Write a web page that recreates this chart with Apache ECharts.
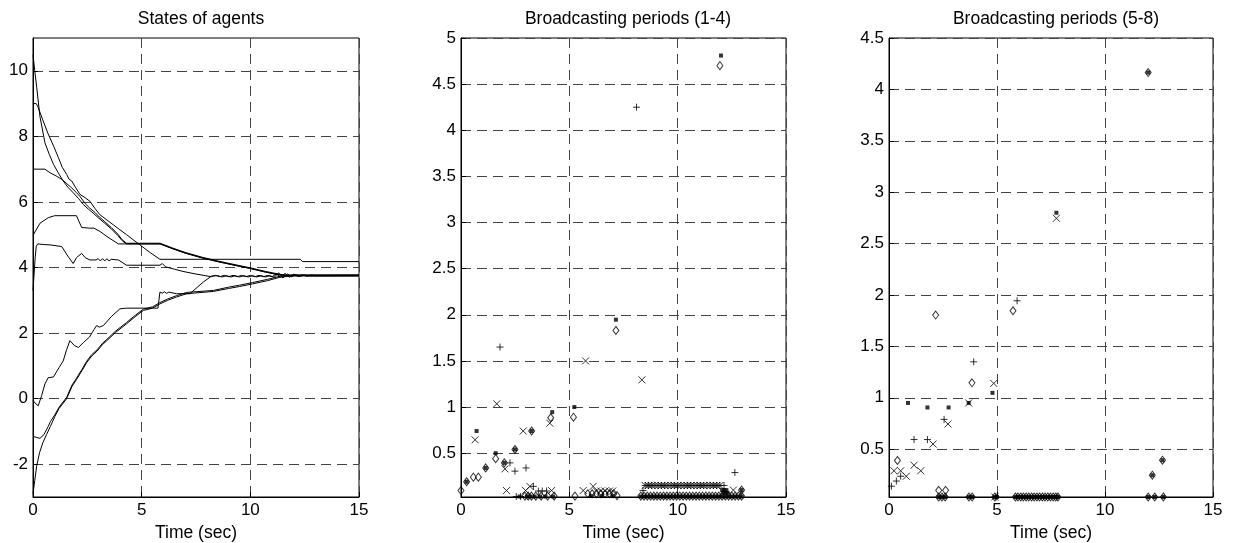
<!DOCTYPE html>
<html>
<head>
<meta charset="utf-8">
<script src="https://cdn.jsdelivr.net/npm/echarts@6/dist/echarts.min.js"></script>
<style>
  html, body { margin: 0; padding: 0; background: #fff; }
  #chart { width: 1233px; height: 543px; }
</style>
</head>
<body>
<div id="chart"></div>
<script>
// tick labels
var timeTicks = [0, 5, 10, 15]
var stateTicks = [-2, 0, 2, 4, 6, 8, 10]
var periodTicks14 = [0.5, 1, 1.5, 2, 2.5, 3, 3.5, 4, 4.5, 5]
var periodTicks58 = [0.5, 1, 1.5, 2, 2.5, 3, 3.5, 4, 4.5]

// states of agents, [time, state]
var state1 = [[0, 10.5], [0.08, 10.0], [0.17, 9.5], [0.32, 8.6], [0.55, 7.8], [0.75, 7.45], [0.94, 7.15], [1.15, 6.9], [1.39, 6.64], [1.6, 6.45], [1.85, 6.28], [2.1, 6.1], [2.32, 5.92], [2.55, 5.78], [2.8, 5.64], [3.0, 5.52], [3.3, 5.35], [3.6, 5.18], [3.9, 4.98], [4.1, 4.82], [4.3, 4.72], [5.85, 4.72], [6.4, 4.58], [7.0, 4.44], [7.8, 4.29], [8.5, 4.18], [9.2, 4.08], [10.0, 3.97], [10.7, 3.86], [11.3, 3.78], [11.6, 3.76], [15, 3.76]]
var state2 = [[0, 9.0], [0.15, 9.0], [0.24, 8.88], [0.45, 8.5], [0.7, 8.07], [0.95, 7.7], [1.17, 7.35], [1.35, 7.05], [1.55, 6.84], [1.65, 6.7], [1.78, 6.64], [1.95, 6.45], [2.16, 6.23], [2.35, 6.15], [2.62, 6.02], [2.85, 5.8], [3.08, 5.61], [3.4, 5.45], [3.7, 5.3], [4.0, 5.15], [4.31, 5.0], [4.6, 4.85], [4.92, 4.69], [5.4, 4.45], [5.84, 4.25], [12.3, 4.25], [12.4, 4.18], [15, 4.18]]
var state3 = [[0, 7.0], [0.55, 7.0], [0.78, 6.89], [1.1, 6.78], [1.32, 6.69], [1.55, 6.56], [1.78, 6.43], [2.0, 6.28], [2.16, 6.17], [2.4, 5.95], [2.6, 5.82], [2.85, 5.68], [3.05, 5.54], [3.3, 5.4], [3.6, 5.22], [3.9, 5.02], [4.1, 4.85], [4.3, 4.74], [5.85, 4.74], [6.4, 4.6], [7.0, 4.46], [7.8, 4.31], [8.5, 4.2], [9.2, 4.1], [10.0, 3.99], [10.7, 3.88], [11.3, 3.8], [11.6, 3.77], [15, 3.77]]
var state4 = [[0, 4.98], [0.08, 5.0], [0.32, 5.35], [0.7, 5.52], [1.0, 5.58], [2.0, 5.58], [2.24, 5.22], [2.62, 5.2], [2.8, 5.2], [3.08, 5.1], [3.5, 4.9], [3.93, 4.72], [5.85, 4.72], [6.4, 4.58], [7.0, 4.44], [7.8, 4.29], [8.5, 4.18], [9.2, 4.08], [10.0, 3.97], [10.7, 3.86], [11.3, 3.78], [11.6, 3.76], [15, 3.76]]
var state5 = [[0, 3.3], [0.1, 4.3], [0.15, 4.65], [0.22, 4.72], [0.5, 4.7], [0.78, 4.69], [1.32, 4.64], [1.6, 4.35], [1.85, 4.12], [2.0, 4.3], [2.24, 4.43], [2.4, 4.3], [2.62, 4.23], [2.9, 4.23], [3.0, 4.27], [3.1, 4.2], [3.2, 4.27], [3.3, 4.2], [3.4, 4.27], [3.5, 4.2], [3.6, 4.25], [3.93, 4.23], [4.3, 4.07], [5.84, 4.07], [5.95, 4.12], [6.1, 4.02], [6.5, 3.95], [6.9, 3.88], [7.5, 3.8], [8.2, 3.72], [8.4, 3.76], [8.6, 3.72], [8.8, 3.76], [9.0, 3.72], [9.2, 3.76], [9.4, 3.72], [9.6, 3.76], [9.8, 3.72], [10.0, 3.76], [10.2, 3.72], [10.4, 3.76], [10.6, 3.72], [10.8, 3.76], [11.0, 3.72], [11.2, 3.8], [11.4, 3.7], [11.6, 3.82], [11.8, 3.7], [12.0, 3.8], [12.2, 3.72], [12.4, 3.78], [12.6, 3.73], [12.8, 3.77], [13.0, 3.75], [15, 3.75]]
var state6 = [[0, -0.05], [0.09, -0.13], [0.24, -0.22], [0.4, 0.1], [0.55, 0.45], [0.7, 0.64], [0.94, 0.66], [1.2, 0.95], [1.39, 1.15], [1.55, 1.5], [1.7, 1.77], [1.9, 1.62], [2.09, 1.56], [2.32, 1.71], [2.6, 1.88], [2.8, 2.1], [2.93, 2.23], [3.05, 2.18], [3.24, 2.23], [3.6, 2.5], [4.0, 2.74], [4.3, 2.76], [5.75, 2.76], [5.84, 3.25], [5.95, 3.22], [6.05, 3.26], [6.15, 3.21], [6.25, 3.25], [6.6, 3.2], [7.22, 3.2], [7.84, 3.56], [8.22, 3.74], [8.3, 3.71], [8.5, 3.75], [8.7, 3.71], [8.9, 3.75], [9.1, 3.71], [9.3, 3.75], [9.5, 3.71], [9.7, 3.75], [9.9, 3.71], [10.1, 3.75], [10.3, 3.71], [10.5, 3.75], [10.7, 3.71], [10.9, 3.75], [11.1, 3.7], [11.3, 3.84], [11.5, 3.68], [11.7, 3.8], [11.9, 3.72], [12.1, 3.78], [12.3, 3.73], [12.5, 3.77], [12.7, 3.74], [15, 3.74]]
var state7 = [[0, -1.15], [0.15, -1.18], [0.32, -1.21], [0.5, -1.1], [0.7, -0.85], [0.8, -0.7], [1.0, -0.5], [1.2, -0.26], [1.55, 0.04], [1.8, 0.42], [2.0, 0.62], [2.25, 0.89], [2.47, 1.14], [2.7, 1.34], [2.95, 1.49], [3.2, 1.69], [3.4, 1.81], [3.8, 2.06], [4.3, 2.32], [4.7, 2.54], [5.08, 2.73], [5.5, 2.8], [5.84, 2.93], [6.2, 3.04], [6.6, 3.14], [7.07, 3.24], [8.3, 3.3], [9.0, 3.4], [9.5, 3.46], [10.1, 3.54], [10.8, 3.64], [11.4, 3.74], [12.0, 3.76], [15, 3.77]]
var state8 = [[0, -2.9], [0.08, -2.5], [0.17, -2.05], [0.3, -1.65], [0.45, -1.35], [0.62, -1.1], [0.8, -0.85], [1.0, -0.55], [1.2, -0.3], [1.55, 0.0], [1.8, 0.38], [2.0, 0.58], [2.25, 0.85], [2.47, 1.1], [2.7, 1.3], [2.95, 1.45], [3.2, 1.65], [3.4, 1.77], [3.8, 2.02], [4.3, 2.28], [4.7, 2.5], [5.08, 2.69], [5.5, 2.76], [5.84, 2.89], [6.2, 3.0], [6.6, 3.1], [7.07, 3.2], [8.3, 3.27], [9.0, 3.36], [9.5, 3.42], [10.1, 3.5], [10.8, 3.6], [11.4, 3.71], [12.0, 3.74], [15, 3.75]]

// broadcasting periods of agents 1-4, [time, period]
var period1 = [[0.26, 0.19], [0.72, 0.74], [1.14, 0.34], [1.6, 0.5], [2.0, 0.395], [2.49, 0.54], [3.26, 0.74], [4.21, 0.945], [5.23, 1.0], [7.15, 1.947], [12.0, 4.81], [2.7, 0.03], [3.05, 0.03], [3.2, 0.03], [3.4, 0.03], [3.65, 0.03], [3.9, 0.03], [4.25, 0.03], [6.0, 0.035], [6.5, 0.035], [7.0, 0.035], [8.3, 0.03], [8.45, 0.03], [8.6, 0.03], [8.75, 0.03], [8.9, 0.03], [9.05, 0.03], [9.2, 0.03], [9.35, 0.03], [9.5, 0.03], [9.65, 0.03], [9.8, 0.03], [9.95, 0.03], [10.1, 0.03], [10.25, 0.03], [10.4, 0.03], [10.55, 0.03], [10.7, 0.03], [10.85, 0.03], [11.0, 0.03], [11.15, 0.03], [11.3, 0.03], [11.45, 0.03], [11.6, 0.03], [11.75, 0.03], [11.9, 0.03], [12.05, 0.03], [12.2, 0.03], [12.35, 0.03], [12.5, 0.03], [12.65, 0.03], [12.8, 0.03], [12.95, 0.03], [12.05, 0.1], [12.15, 0.1], [12.25, 0.1], [12.1, 0.07], [12.2, 0.07], [12.3, 0.07], [12.95, 0.1]]
var period2 = [[0.0, 0.095], [0.26, 0.19], [0.57, 0.24], [0.8, 0.24], [1.14, 0.34], [1.6, 0.44], [2.0, 0.395], [2.49, 0.54], [3.26, 0.74], [4.14, 0.884], [5.19, 0.89], [7.15, 1.83], [11.95, 4.7], [2.95, 0.035], [3.1, 0.035], [3.25, 0.035], [3.45, 0.035], [3.7, 0.035], [4.0, 0.035], [4.3, 0.035], [5.26, 0.035], [5.85, 0.06], [6.05, 0.06], [6.25, 0.06], [6.45, 0.06], [6.65, 0.06], [6.85, 0.06], [7.05, 0.06], [7.2, 0.04], [8.3, 0.035], [8.45, 0.035], [8.6, 0.035], [8.75, 0.035], [8.9, 0.035], [9.05, 0.035], [9.2, 0.035], [9.35, 0.035], [9.5, 0.035], [9.65, 0.035], [9.8, 0.035], [9.95, 0.035], [10.1, 0.035], [10.25, 0.035], [10.4, 0.035], [10.55, 0.035], [10.7, 0.035], [10.85, 0.035], [11.0, 0.035], [11.15, 0.035], [11.3, 0.035], [11.45, 0.035], [11.6, 0.035], [11.75, 0.035], [11.9, 0.035], [12.05, 0.035], [12.2, 0.035], [12.35, 0.035], [12.5, 0.035], [12.65, 0.035], [12.8, 0.035], [12.95, 0.035], [12.95, 0.1]]
var period3 = [[1.8, 1.65], [2.26, 0.395], [2.49, 0.305], [3.0, 0.34], [3.34, 0.14], [3.57, 0.09], [3.75, 0.09], [3.95, 0.09], [2.55, 0.03], [2.75, 0.03], [8.1, 4.25], [8.4, 0.095], [8.5, 0.15], [8.65, 0.15], [8.8, 0.15], [8.95, 0.15], [9.1, 0.15], [9.25, 0.15], [9.4, 0.15], [9.55, 0.15], [9.7, 0.15], [9.85, 0.15], [10.0, 0.15], [10.15, 0.15], [10.3, 0.15], [10.45, 0.15], [10.6, 0.15], [10.75, 0.15], [10.9, 0.15], [11.05, 0.15], [11.2, 0.15], [11.35, 0.15], [11.5, 0.15], [11.65, 0.15], [11.8, 0.15], [11.95, 0.15], [12.14, 0.15], [12.64, 0.29]]
var period4 = [[0.65, 0.645], [1.65, 1.035], [2.03, 0.33], [2.1, 0.095], [2.87, 0.74], [2.98, 0.095], [3.18, 0.14], [4.1, 0.825], [4.18, 0.095], [5.75, 1.5], [8.35, 1.295], [5.64, 0.095], [6.1, 0.14], [6.25, 0.09], [6.45, 0.09], [6.65, 0.09], [6.85, 0.09], [7.0, 0.09], [8.5, 0.15], [8.65, 0.15], [8.8, 0.15], [8.95, 0.15], [9.1, 0.15], [9.25, 0.15], [9.4, 0.15], [9.55, 0.15], [9.7, 0.15], [9.85, 0.15], [10.0, 0.15], [10.15, 0.15], [10.3, 0.15], [10.45, 0.15], [10.6, 0.15], [10.75, 0.15], [10.9, 0.15], [11.05, 0.15], [11.2, 0.15], [11.35, 0.15], [11.5, 0.15], [11.65, 0.15], [11.8, 0.15], [11.95, 0.15], [12.57, 0.1]]

// broadcasting periods of agents 5-8
var period5 = [[0.88, 0.95], [1.78, 0.906], [2.76, 0.906], [3.69, 0.95], [4.79, 1.048], [7.75, 2.8], [12.0, 4.164], [12.19, 0.247], [12.66, 0.393], [2.3, 0.035], [2.45, 0.035], [2.6, 0.035], [3.7, 0.035], [3.85, 0.035], [4.9, 0.035], [5.0, 0.035], [5.85, 0.035], [5.97, 0.035], [6.1, 0.035], [6.22, 0.035], [6.35, 0.035], [6.47, 0.035], [6.6, 0.035], [6.72, 0.035], [6.85, 0.035], [6.97, 0.035], [7.1, 0.035], [7.22, 0.035], [7.35, 0.035], [7.47, 0.035], [7.6, 0.035], [7.72, 0.035], [7.82, 0.035], [12.0, 0.035], [12.3, 0.035], [12.7, 0.035]]
var period6 = [[0.39, 0.39], [2.16, 1.805], [2.3, 0.1], [2.62, 0.1], [3.84, 1.146], [5.74, 1.847], [12.0, 4.164], [12.19, 0.247], [12.66, 0.393], [2.3, 0.035], [2.45, 0.035], [2.6, 0.035], [3.7, 0.035], [3.85, 0.035], [4.9, 0.035], [5.85, 0.035], [5.97, 0.035], [6.1, 0.035], [6.22, 0.035], [6.35, 0.035], [6.47, 0.035], [6.6, 0.035], [6.72, 0.035], [6.85, 0.035], [6.97, 0.035], [7.1, 0.035], [7.22, 0.035], [7.35, 0.035], [7.47, 0.035], [7.6, 0.035], [7.72, 0.035], [7.82, 0.035], [12.0, 0.035], [12.3, 0.035], [12.7, 0.035]]
var period7 = [[0.11, 0.14], [0.34, 0.19], [0.54, 0.237], [1.16, 0.594], [1.78, 0.594], [2.55, 0.79], [3.92, 1.35], [5.93, 1.944], [4.95, 0.035]]
var period8 = [[0.23, 0.29], [0.54, 0.29], [0.8, 0.237], [1.16, 0.344], [1.47, 0.29], [2.04, 0.55], [2.73, 0.745], [3.69, 0.95], [4.85, 1.14], [7.75, 2.746], [4.9, 0.035]]

var font = 'Liberation Sans, Arial, sans-serif'
var gridLine = { show: true, lineStyle: { color: '#444', width: 1, type: [10, 6] } }

// marker shapes like matlab '+', 'x', 'd', '.'
var plusPath = 'path://M0,4L8,4M4,0L4,8'
var crossPath = 'path://M0,0L8,8M8,0L0,8'

function xAxisOf (i) {
  return {
    gridIndex: i,
    type: 'value',
    min: 0,
    max: 15,
    interval: 5,
    name: 'Time (sec)',
    nameLocation: 'middle',
    nameGap: 26,
    nameTextStyle: { color: '#000', fontSize: 17.5, fontFamily: font },
    axisLine: { onZero: false, lineStyle: { color: '#000', width: 1 } },
    axisTick: { inside: true, length: 5, lineStyle: { color: '#000' } },
    axisLabel: { color: '#000', fontSize: 17, fontFamily: font, margin: 5 },
    splitLine: gridLine
  }
}

function yAxisOf (i, min, max, ticks) {
  return {
    gridIndex: i,
    type: 'value',
    min: min,
    max: max,
    axisLine: { onZero: false, lineStyle: { color: '#000', width: 1 } },
    axisTick: { inside: true, length: 5, customValues: ticks, lineStyle: { color: '#000' } },
    axisLabel: { color: '#000', fontSize: 17, fontFamily: font, margin: 5, customValues: ticks },
    splitLine: gridLine
  }
}

function stateLine (data) {
  return {
    type: 'line',
    xAxisIndex: 0,
    yAxisIndex: 0,
    data: data,
    symbol: 'none',
    lineStyle: { color: '#000', width: 1 },
    animation: false
  }
}

function marks (i, data, kind) {
  var s = {
    type: 'scatter',
    xAxisIndex: i,
    yAxisIndex: i,
    data: data,
    animation: false,
    silent: true
  }
  if (kind === 'dot') {
    s.symbol = 'rect'
    s.symbolSize = 4
    s.itemStyle = { color: '#000' }
  } else if (kind === 'diamond') {
    s.symbol = 'diamond'
    s.symbolSize = [6, 8]
    s.itemStyle = { color: 'rgba(0,0,0,0)', borderColor: '#000', borderWidth: 1 }
  } else {
    s.symbol = kind === 'plus' ? plusPath : crossPath
    s.symbolSize = 7
    s.itemStyle = { color: 'rgba(0,0,0,0)', borderColor: '#000', borderWidth: 1 }
  }
  return s
}

var chart = echarts.init(document.getElementById('chart'))
var titleStyle = { color: '#000', fontSize: 17.5, fontWeight: 'normal', fontFamily: font }
// fixed plot boxes, labels may reach the edge
var box = { show: true, borderColor: '#000', borderWidth: 1, backgroundColor: '#fff', outerBoundsMode: 'none', containLabel: false }

chart.setOption({
  backgroundColor: '#fff',
  title: [
    { text: 'States of agents', left: 196, top: 5, textAlign: 'center', textStyle: titleStyle },
    { text: 'Broadcasting periods (1-4)', left: 623, top: 5, textAlign: 'center', textStyle: titleStyle },
    { text: 'Broadcasting periods (5-8)', left: 1051, top: 5, textAlign: 'center', textStyle: titleStyle }
  ],
  grid: [
    Object.assign({ left: 33, top: 38, width: 326, height: 459 }, box),
    Object.assign({ left: 461, top: 38, width: 325, height: 459 }, box),
    Object.assign({ left: 889, top: 38, width: 324, height: 459 }, box)
  ],
  xAxis: [xAxisOf(0), xAxisOf(1), xAxisOf(2)],
  yAxis: [
    yAxisOf(0, -3, 11, stateTicks),
    yAxisOf(1, 0.025, 5, periodTicks14),
    yAxisOf(2, 0.035, 4.5, periodTicks58)
  ],
  series: [
    stateLine(state1), stateLine(state2), stateLine(state3), stateLine(state4),
    stateLine(state5), stateLine(state6), stateLine(state7), stateLine(state8),
    marks(1, period2, 'diamond'), marks(1, period4, 'cross'), marks(1, period3, 'plus'), marks(1, period1, 'dot'),
    marks(2, period6, 'diamond'), marks(2, period8, 'cross'), marks(2, period7, 'plus'), marks(2, period5, 'dot')
  ]
})
</script>
</body>
</html>
